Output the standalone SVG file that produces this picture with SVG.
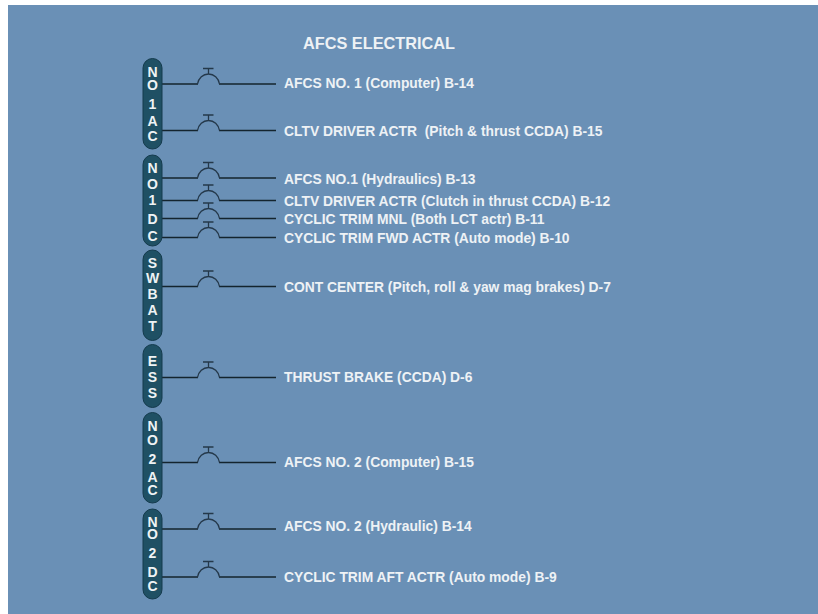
<svg xmlns="http://www.w3.org/2000/svg" xmlns:xlink="http://www.w3.org/1999/xlink" width="818" height="614" viewBox="0 0 818 614">
<style>
.lbl{font:bold 13.85px "Liberation Sans",Arial,sans-serif;fill:#eef2f5}
.ttl{font:bold 16.3px "Liberation Sans",Arial,sans-serif;fill:#eef2f5}
.pill{fill:#1f5064;stroke:#143a4c;stroke-width:1}
.ltr{font:bold 14px "Liberation Sans",Arial,sans-serif;fill:#eef3f5;text-anchor:middle}
.w{fill:none;stroke:#14242e;stroke-width:1.3}
.b{fill:none;stroke:#24384a;stroke-width:1.3}
</style>
<defs>
<g id="cb"><path class="b" d="M197.500 0C198.500 -6 203 -10 208.500 -10C214 -10 218.500 -6 219.500 0M208.500 -10V-15.500M203 -15.500H213.500"/></g>
</defs>
<rect x="8" y="5" width="810" height="609" fill="#6a90b6"/>
<text class="ttl" x="303" y="48.800">AFCS ELECTRICAL</text>
<g id="connectors">
<path class="w" d="M162 84H198M219 84H276M162 130.500H198M219 130.500H276M162 178H198M219 178H276M162 200.500H198M219 200.500H276M162 218.500H198M219 218.500H276M162 237.500H198M219 237.500H276M162 286.500H198M219 286.500H276M162 377.500H198M219 377.500H276M162 462.500H198M219 462.500H276M162 529H198M219 529H276M162 577H198M219 577H276"/>
<use xlink:href="#cb" href="#cb" y="84"/>
<use xlink:href="#cb" href="#cb" y="130.500"/>
<use xlink:href="#cb" href="#cb" y="178"/>
<use xlink:href="#cb" href="#cb" y="200.500"/>
<use xlink:href="#cb" href="#cb" y="218.500"/>
<use xlink:href="#cb" href="#cb" y="237.500"/>
<use xlink:href="#cb" href="#cb" y="286.500"/>
<use xlink:href="#cb" href="#cb" y="377.500"/>
<use xlink:href="#cb" href="#cb" y="462.500"/>
<use xlink:href="#cb" href="#cb" y="529"/>
<use xlink:href="#cb" href="#cb" y="577"/>
</g>
<g id="bus-no1ac"><rect class="pill" x="143" y="58.500" width="19" height="90.500" rx="9.500"/>
<text class="ltr" x="152.500" y="76.700">N</text><text class="ltr" x="152.500" y="90">O</text><text class="ltr" x="152.500" y="109">1</text><text class="ltr" x="152.500" y="126">A</text><text class="ltr" x="152.500" y="140.500">C</text></g>
<g id="bus-no1dc"><rect class="pill" x="143" y="155" width="19" height="91" rx="9.500"/>
<text class="ltr" x="152.500" y="173.300">N</text><text class="ltr" x="152.500" y="189">O</text><text class="ltr" x="152.500" y="205">1</text><text class="ltr" x="152.500" y="224">D</text><text class="ltr" x="152.500" y="240.500">C</text></g>
<g id="bus-swbat"><rect class="pill" x="143" y="250" width="19" height="90.500" rx="9.500"/>
<text class="ltr" x="152.500" y="267.500">S</text><text class="ltr" x="152.500" y="283">W</text><text class="ltr" x="152.500" y="299">B</text><text class="ltr" x="152.500" y="315">A</text><text class="ltr" x="152.500" y="331">T</text></g>
<g id="bus-ess"><rect class="pill" x="143" y="344.500" width="19" height="63" rx="9.500"/>
<text class="ltr" x="152.500" y="366">E</text><text class="ltr" x="152.500" y="382">S</text><text class="ltr" x="152.500" y="398">S</text></g>
<g id="bus-no2ac"><rect class="pill" x="143" y="412.500" width="19" height="90.500" rx="9.500"/>
<text class="ltr" x="152.500" y="431">N</text><text class="ltr" x="152.500" y="444.500">O</text><text class="ltr" x="152.500" y="463.500">2</text><text class="ltr" x="152.500" y="481.500">A</text><text class="ltr" x="152.500" y="495">C</text></g>
<g id="bus-no2dc"><rect class="pill" x="143" y="509" width="19" height="90" rx="9.500"/>
<text class="ltr" x="152.500" y="526.700">N</text><text class="ltr" x="152.500" y="539">O</text><text class="ltr" x="152.500" y="558">2</text><text class="ltr" x="152.500" y="576.700">D</text><text class="ltr" x="152.500" y="590.500">C</text></g>
<g id="labels">
<text class="lbl" x="284" y="88.300">AFCS NO. 1 (Computer) B-14</text>
<text class="lbl" x="284" y="136" xml:space="preserve">CLTV DRIVER ACTR  (Pitch &amp; thrust CCDA) B-15</text>
<text class="lbl" x="284" y="184">AFCS NO.1 (Hydraulics) B-13</text>
<text class="lbl" x="284" y="205.500">CLTV DRIVER ACTR (Clutch in thrust CCDA) B-12</text>
<text class="lbl" x="284" y="224">CYCLIC TRIM MNL (Both LCT actr) B-11</text>
<text class="lbl" x="284" y="243.300">CYCLIC TRIM FWD ACTR (Auto mode) B-10</text>
<text class="lbl" x="284" y="291.500">CONT CENTER (Pitch, roll &amp; yaw mag brakes) D-7</text>
<text class="lbl" x="284" y="382">THRUST BRAKE (CCDA) D-6</text>
<text class="lbl" x="284" y="466.500">AFCS NO. 2 (Computer) B-15</text>
<text class="lbl" x="284" y="531">AFCS NO. 2 (Hydraulic) B-14</text>
<text class="lbl" x="284" y="582">CYCLIC TRIM AFT ACTR (Auto mode) B-9</text>
</g>
</svg>
